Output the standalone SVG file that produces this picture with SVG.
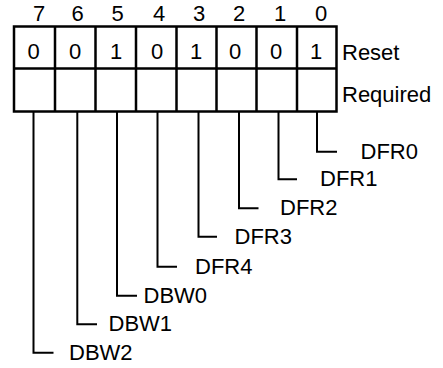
<svg xmlns="http://www.w3.org/2000/svg" width="443" height="368" viewBox="0 0 443 368">
<style>
text{font-family:"Liberation Sans",Arial,sans-serif;font-size:22px;fill:#000}
.c{text-anchor:middle}
.b{fill:none;stroke:#000;stroke-width:2.5}
.l{fill:none;stroke:#000;stroke-width:2}
</style>
<rect width="443" height="368" fill="#fff"/>
<g id="register">
<rect class="b" x="14" y="26.5" width="322.5" height="85"/>
<path class="b" d="M14 68.5H336.5M55 26.5V111.5M95.5 26.5V111.5M136 26.5V111.5M176.5 26.5V111.5M216.5 26.5V111.5M256.5 26.5V111.5M297 26.5V111.5"/>
</g>
<g id="bit-numbers">
<text class="c" x="39" y="20.5">7</text>
<text class="c" x="77.5" y="20.5">6</text>
<text class="c" x="117.5" y="20.5">5</text>
<text class="c" x="159" y="20.5">4</text>
<text class="c" x="199" y="20.5">3</text>
<text class="c" x="239" y="20.5">2</text>
<text class="c" x="280" y="20.5">1</text>
<text class="c" x="321" y="20.5">0</text>
</g>
<g id="reset-values">
<text class="c" x="33.5" y="59">0</text>
<text class="c" x="75" y="59">0</text>
<text class="c" x="116" y="59">1</text>
<text class="c" x="157" y="59">0</text>
<text class="c" x="196" y="59">1</text>
<text class="c" x="235" y="59">0</text>
<text class="c" x="276" y="59">0</text>
<text class="c" x="316" y="59">1</text>
</g>
<g id="row-labels">
<text x="342" y="59.5">Reset</text>
<text x="342" y="101.5">Required</text>
</g>
<g id="connectors">
<path class="l" d="M317 111.5V151.7H337"/>
<path class="l" d="M278.5 111.5V179.3H297"/>
<path class="l" d="M239 111.5V208.3H258.5"/>
<path class="l" d="M198.5 111.5V236.7H217"/>
<path class="l" d="M157.5 111.5V266.7H177"/>
<path class="l" d="M117 111.5V295.7H137"/>
<path class="l" d="M77.3 111.5V324.3H97"/>
<path class="l" d="M33.5 111.5V352.7H53.5"/>
</g>
<g id="DFR0"><text x="360.5" y="158.5">DFR0</text></g>
<g id="DFR1"><text x="320" y="186">DFR1</text></g>
<g id="DFR2"><text x="280" y="215">DFR2</text></g>
<g id="DFR3"><text x="234.5" y="243.5">DFR3</text></g>
<g id="DFR4"><text x="195" y="273.5">DFR4</text></g>
<g id="DBW0"><text x="143.5" y="302.5">DBW0</text></g>
<g id="DBW1"><text x="108.5" y="331">DBW1</text></g>
<g id="DBW2"><text x="69" y="359.5">DBW2</text></g>
</svg>
